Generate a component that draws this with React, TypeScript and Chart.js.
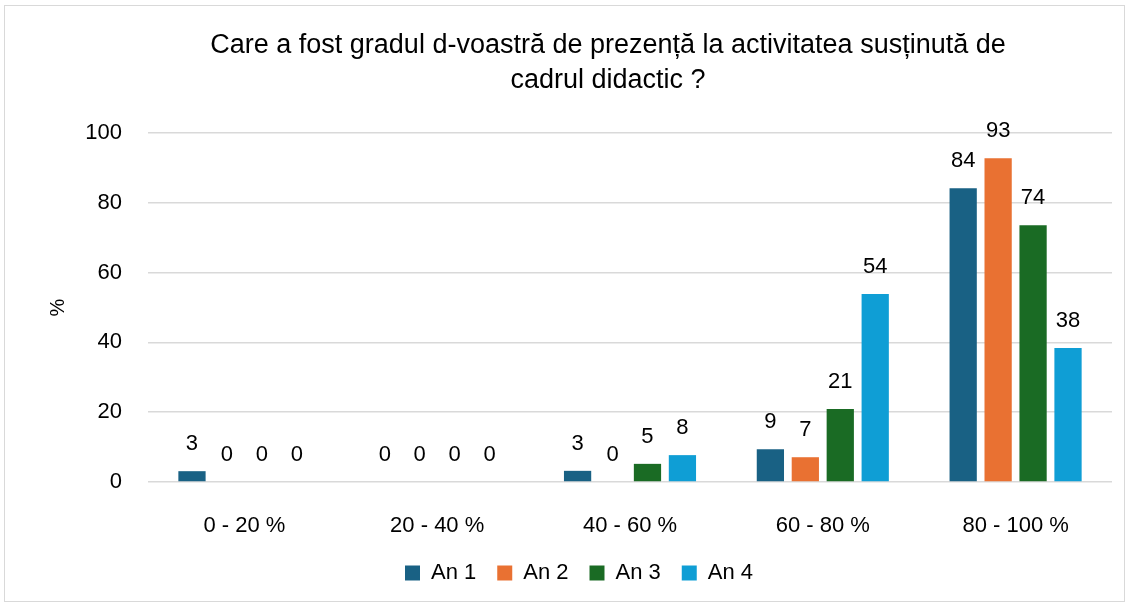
import React, { useEffect, useRef } from "react";
import { Chart, registerables } from "chart.js";
Chart.register(...registerables);

const categories = ["0 - 20 %", "20 - 40 %", "40 - 60 %", "60 - 80 %", "80 - 100 %"];
const seriesNames = ["An 1", "An 2", "An 3", "An 4"];
const an1 = [3.1, 0, 3.2, 9.4, 84.2];
const an2 = [0, 0, 0, 7.1, 92.8];
const an3 = [0, 0, 5.2, 20.9, 73.6];
const an4 = [0, 0, 7.7, 53.9, 38.4];
const colors = ["#196184", "#E97132", "#1A6B24", "#0F9ED5"];
const yTicks = [0, 20, 40, 60, 80, 100];
const titleLines = [
  "Care a fost gradul d-voastră de prezență la activitatea susținută de",
  "cadrul didactic ?",
];
const yTitle = "%";

const FONT = "'Liberation Sans', Arial, sans-serif";

const valueLabels = {
  id: "valueLabels",
  afterDatasetsDraw(chart: any) {
    const ctx = chart.ctx;
    ctx.save();
    ctx.font = `22px ${FONT}`;
    ctx.fillStyle = "#000000";
    ctx.textAlign = "center";
    ctx.textBaseline = "middle";
    chart.data.datasets.forEach((ds: any, i: number) => {
      const meta = chart.getDatasetMeta(i);
      meta.data.forEach((bar: any, j: number) => {
        const v = ds.data[j];
        ctx.fillText(String(Math.round(v)), bar.x, bar.y - 27);
      });
    });
    ctx.restore();
  },
};

const titleDraw = {
  id: "titleDraw",
  afterDraw(chart: any) {
    const ctx = chart.ctx;
    ctx.save();
    ctx.font = `27px ${FONT}`;
    ctx.fillStyle = "#000000";
    ctx.textAlign = "center";
    ctx.textBaseline = "middle";
    titleLines.forEach((t, i) => ctx.fillText(t, 603, 40 + i * 35));
    ctx.restore();
  },
};

export default function App() {
  const ref = useRef<HTMLCanvasElement>(null);
  useEffect(() => {
    const all = [an1, an2, an3, an4];
    const chart = new Chart(ref.current!, {
      type: "bar",
      data: {
        labels: categories,
        datasets: all.map((d, i) => ({
          label: seriesNames[i],
          data: d,
          backgroundColor: colors[i],
          borderWidth: 0,
          barPercentage: 0.78,
          categoryPercentage: 0.725,
        })),
      },
      options: {
        animation: false,
        responsive: true,
        maintainAspectRatio: false,
        layout: { padding: { left: 41, right: 12, top: 127, bottom: 7 } },
        plugins: {
          title: { display: false },
          legend: {
            position: "bottom",
            labels: {
              color: "#000000",
              font: { family: FONT, size: 22 },
              boxWidth: 15,
              boxHeight: 15,
              padding: 21,
            },
          },
          tooltip: { enabled: false },
        },
        scales: {
          x: {
            grid: { display: false },
            border: { display: false },
            ticks: { color: "#000000", font: { family: FONT, size: 22 }, padding: 23 },
            afterFit: (axis: any) => {
              axis.height = 59;
            },
          },
          y: {
            min: 0,
            max: 100,
            afterBuildTicks: (axis: any) => {
              axis.ticks = yTicks.map((v) => ({ value: v }));
            },
            afterFit: (axis: any) => {
              axis.width = 102;
            },
            grid: { color: "#d9d9d9", lineWidth: 1.5, drawTicks: false },
            border: { display: false },
            ticks: { color: "#000000", font: { family: FONT, size: 22 }, padding: 26 },
            title: {
              display: true,
              text: yTitle,
              color: "#000000",
              font: { family: FONT, size: 20 },
              padding: { top: 0, bottom: 0 },
            },
          },
        },
      },
      plugins: [valueLabels, titleDraw],
    });
    return () => chart.destroy();
  }, []);
  return (
    <div
      style={{
        position: "fixed",
        left: 4,
        top: 5,
        width: 1121,
        height: 597,
        border: "1px solid #d9d9d9",
        boxSizing: "border-box",
        background: "#fff",
      }}
    >
      <canvas ref={ref} />
    </div>
  );
}
